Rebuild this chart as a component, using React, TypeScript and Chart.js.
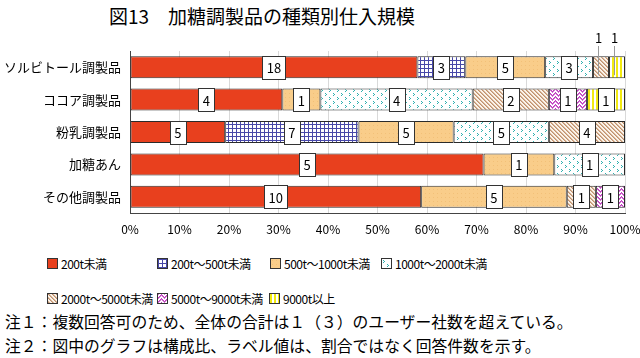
import React, { useEffect, useRef, useMemo } from 'react';
import { Chart, registerables } from 'chart.js';
Chart.register(...registerables);

const categories = ['ソルビトール調製品', 'ココア調製品', '粉乳調製品', '加糖あん', 'その他調製品'];
const seriesNames = ['200t未満', '200t～500t未満', '500t～1000t未満', '1000t～2000t未満', '2000t～5000t未満', '5000t～9000t未満', '9000t以上'];
const under200 = [18, 4, 5, 5, 10];
const from200to500 = [3, 0, 7, 0, 0];
const from500to1000 = [5, 1, 5, 1, 5];
const from1000to2000 = [3, 4, 5, 1, 0];
const from2000to5000 = [1, 2, 4, 0, 1];
const from5000to9000 = [0, 1, 0, 0, 1];
const over9000 = [1, 1, 0, 0, 0];
const xTickValues = [0, 10, 20, 30, 40, 50, 60, 70, 80, 90, 100];

const seriesCounts = [under200, from200to500, from500to1000, from1000to2000, from2000to5000, from5000to9000, over9000];
const patternKinds = ['red', 'grid', 'orange', 'dots', 'diag', 'chevron', 'vstripe'];

const FONT = '"Noto Sans CJK JP", "Noto Sans", sans-serif';

function makeTile(kind: string): HTMLCanvasElement {
  const c = document.createElement('canvas');
  const px = (ctx: CanvasRenderingContext2D, x: number, y: number, col: string) => {
    ctx.fillStyle = col;
    ctx.fillRect(x, y, 1, 1);
  };
  if (kind === 'red') {
    c.width = 4; c.height = 4;
    const ctx = c.getContext('2d')!;
    ctx.fillStyle = '#E8401E'; ctx.fillRect(0, 0, 4, 4);
  } else if (kind === 'grid') {
    c.width = 4; c.height = 4;
    const ctx = c.getContext('2d')!;
    ctx.fillStyle = '#ffffff'; ctx.fillRect(0, 0, 4, 4);
    ctx.fillStyle = '#4848A8';
    ctx.fillRect(0, 0, 4, 1); ctx.fillRect(0, 0, 1, 4);
  } else if (kind === 'orange') {
    c.width = 4; c.height = 4;
    const ctx = c.getContext('2d')!;
    ctx.fillStyle = '#F9CD8A'; ctx.fillRect(0, 0, 4, 4);
    px(ctx, 1, 1, '#F2C078');
  } else if (kind === 'dots') {
    c.width = 8; c.height = 8;
    const ctx = c.getContext('2d')!;
    ctx.fillStyle = '#ffffff'; ctx.fillRect(0, 0, 8, 8);
    const col = '#2FB0B0';
    px(ctx, 1, 1, col); px(ctx, 2, 2, col); px(ctx, 1, 3, col);
    px(ctx, 5, 5, col); px(ctx, 6, 6, col); px(ctx, 5, 7, col);
  } else if (kind === 'diag') {
    c.width = 4; c.height = 4;
    const ctx = c.getContext('2d')!;
    ctx.fillStyle = '#FBF3EA'; ctx.fillRect(0, 0, 4, 4);
    for (let i = 0; i < 4; i++) {
      px(ctx, i, i, '#C09070');
      px(ctx, (i + 1) % 4, i, '#D8B898');
    }
  } else if (kind === 'chevron') {
    c.width = 6; c.height = 4;
    const ctx = c.getContext('2d')!;
    ctx.fillStyle = '#ffffff'; ctx.fillRect(0, 0, 6, 4);
    for (let x = 0; x < 6; x++) {
      const y = Math.abs(x - 3) % 4;
      px(ctx, x, y, '#C03CC0');
      px(ctx, x, (y + 1) % 4, '#D070D0');
    }
  } else {
    c.width = 4; c.height = 4;
    const ctx = c.getContext('2d')!;
    ctx.fillStyle = '#ffffff'; ctx.fillRect(0, 0, 4, 4);
    ctx.fillStyle = '#F2EA10'; ctx.fillRect(0, 0, 2, 4);
  }
  return c;
}

const labelPlugin = {
  id: 'boxLabels',
  afterDatasetsDraw(chart: any) {
    const ctx = chart.ctx as CanvasRenderingContext2D;
    ctx.save();
    ctx.font = '13px ' + FONT;
    ctx.textAlign = 'center';
    ctx.textBaseline = 'middle';
    chart.data.datasets.forEach((_ds: any, di: number) => {
      const meta = chart.getDatasetMeta(di);
      meta.data.forEach((el: any, i: number) => {
        const count = seriesCounts[di][i];
        if (!count) return;
        const p = el.getProps(['x', 'y', 'base', 'height'], true);
        const cx = (p.x + p.base) / 2;
        const segW = Math.abs(p.x - p.base);
        const txt = String(count);
        const tw = ctx.measureText(txt).width;
        if (segW < 20) {
          const lx = Math.round(cx - 3) + 0.5;
          ctx.strokeStyle = '#999';
          ctx.lineWidth = 1;
          ctx.beginPath();
          ctx.moveTo(lx, chart.chartArea.top - 5);
          ctx.lineTo(lx, p.y + 8);
          ctx.stroke();
          ctx.fillStyle = '#000';
          ctx.fillText(txt, lx, chart.chartArea.top - 13);
          return;
        }
        const w = Math.round(tw + 9);
        const h = Math.round(p.height) + 1;
        const bx = Math.round(cx - w / 2) + 0.5;
        const by = Math.round(p.y - h / 2) + 0.5;
        ctx.fillStyle = '#ffffff';
        ctx.fillRect(bx, by, w, h);
        ctx.strokeStyle = '#333';
        ctx.lineWidth = 1;
        ctx.strokeRect(bx, by, w, h);
        ctx.fillStyle = '#000';
        ctx.fillText(txt, cx, p.y + 1);
      });
    });
    ctx.restore();
  },
};

export default function App() {
  const canvasRef = useRef<HTMLCanvasElement | null>(null);
  const tiles = useMemo(() => patternKinds.map((k) => makeTile(k)), []);
  const swatchUrls = useMemo(() => tiles.map((t) => t.toDataURL()), [tiles]);

  useEffect(() => {
    const canvas = canvasRef.current!;
    const ctx = canvas.getContext('2d')!;
    const patterns = tiles.map((t) => ctx.createPattern(t, 'repeat'));
    const datasets = seriesCounts.map((arr, di) => ({
      label: seriesNames[di],
      data: arr.map((v, i) => {
        const total = seriesCounts.reduce((s, a) => s + a[i], 0);
        return (v / total) * 100;
      }),
      backgroundColor: patterns[di] as any,
      borderColor: '#2a2a2a',
      borderWidth: 1,
      borderSkipped: false,
      categoryPercentage: 1,
      barPercentage: 0.68,
    }));
    const chart = new Chart(canvas, {
      type: 'bar',
      data: { labels: categories, datasets },
      options: {
        indexAxis: 'y',
        responsive: false,
        animation: false,
        layout: { padding: { top: 51, right: 0, left: 0, bottom: 0 } },
        plugins: { legend: { display: false }, tooltip: { enabled: false }, title: { display: false } },
        scales: {
          x: {
            stacked: true,
            min: 0,
            max: 100,
            afterBuildTicks: (s: any) => { s.ticks = xTickValues.map((v) => ({ value: v })); },
            afterFit: (s: any) => { s.height = 27; s.paddingRight = 15; },
            ticks: { callback: (v: any) => v + '%', color: '#000', font: { size: 12, family: FONT }, padding: 9, maxRotation: 0 },
            grid: { color: '#d9d9d9', drawTicks: false },
            border: { color: '#444', width: 1 },
          },
          y: {
            stacked: true,
            afterFit: (s: any) => { s.width = 130; },
            ticks: { color: '#000', font: { size: 13, family: FONT }, padding: 9 },
            grid: { display: false, drawTicks: false },
            border: { color: '#444', width: 1 },
          },
        },
      },
      plugins: [labelPlugin],
    });
    return () => chart.destroy();
  }, [tiles]);

  const legendPos = [
    [47, 263], [157, 263], [270, 263], [381, 263],
    [47, 298], [157, 298], [269, 298],
  ];

  return (
    <div style={{ position: 'fixed', left: 0, top: 0, width: 640, height: 358, background: '#fff', fontFamily: FONT, color: '#000', overflow: 'hidden' }}>
      <div style={{ position: 'absolute', left: 109, top: 4, fontSize: 19, lineHeight: '24px', whiteSpace: 'nowrap' }}>図13　加糖調製品の種類別仕入規模</div>
      <canvas ref={canvasRef} width={640} height={240} style={{ position: 'absolute', left: 0, top: 0, width: 640, height: 240 }} />
      {seriesNames.map((name, i) => (
        <div key={name} style={{ position: 'absolute', left: legendPos[i][0], top: legendPos[i][1] - 9, height: 18, display: 'flex', alignItems: 'center', whiteSpace: 'nowrap', fontSize: 12, letterSpacing: -0.5 }}>
          <span style={{ display: 'inline-block', width: 9, height: 9, border: '1px solid #333', backgroundImage: `url(${swatchUrls[i]})`, marginRight: 3 }} />
          <span>{name}</span>
        </div>
      ))}
      <div style={{ position: 'absolute', left: 5, top: 312, fontSize: 15.8, lineHeight: '20px', whiteSpace: 'nowrap' }}>注１：複数回答可のため、全体の合計は１（３）のユーザー社数を超えている。</div>
      <div style={{ position: 'absolute', left: 5, top: 336, fontSize: 15.8, lineHeight: '20px', whiteSpace: 'nowrap' }}>注２：図中のグラフは構成比、ラベル値は、割合ではなく回答件数を示す。</div>
    </div>
  );
}
